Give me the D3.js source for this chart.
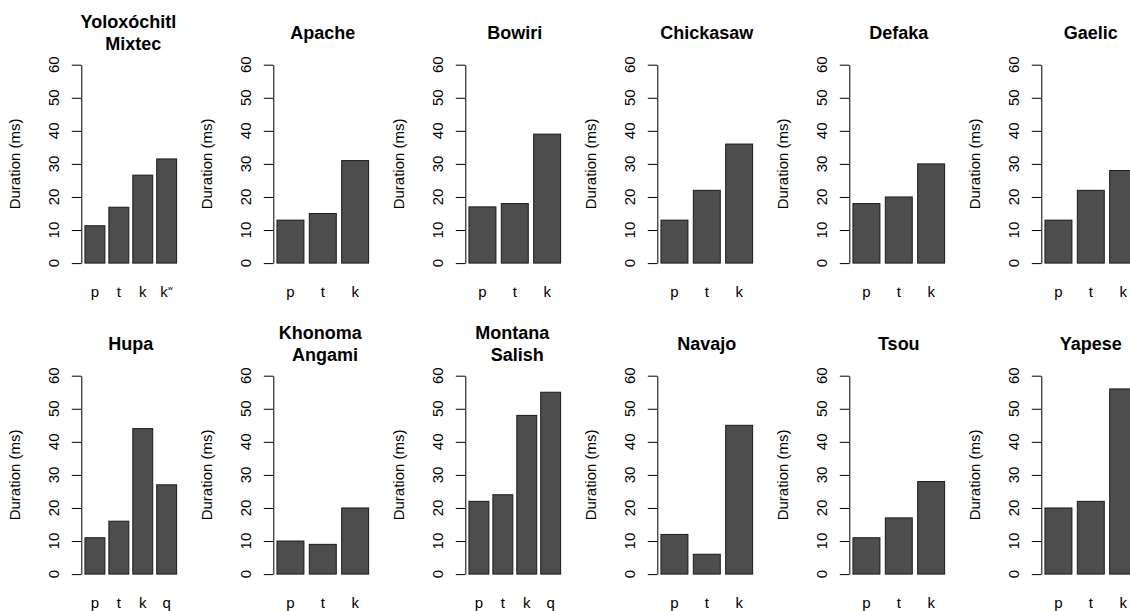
<!DOCTYPE html>
<html><head><meta charset="utf-8">
<script src="https://cdn.jsdelivr.net/npm/d3@7"></script>
<style>
html,body{margin:0;padding:0;background:#fff;}
svg{display:block;font-family:"Liberation Sans",Arial,Helvetica,sans-serif;}
</style></head>
<body><svg id="chart" width="1130" height="611"></svg>
<script>
const languages = ["Yoloxóchitl \n Mixtec","Apache","Bowiri","Chickasaw","Defaka","Gaelic",
                   "Hupa","Khonoma \n Angami","Montana \n Salish","Navajo","Tsou","Yapese"];
const consonants = [
  ["p","t","k","kʷ"],["p","t","k"],["p","t","k"],["p","t","k"],["p","t","k"],["p","t","k"],
  ["p","t","k","q"],["p","t","k"],["p","t","k","q"],["p","t","k"],["p","t","k"],["p","t","k"]
];
const durations = [
  [11.3,16.9,26.6,31.5],[13,15,31],[17,18,39],[13,22,36],[18,20,30],[13,22,28],
  [11,16,44,27],[10,9,20],[22,24,48,55],[12,6,45],[11,17,28],[20,22,56]
];
const yTicks = [0,10,20,30,40,50,60];
const yLabel = "Duration (ms)";

const svg = d3.select("#chart");
svg.append("rect").attr("width",1130).attr("height",611).attr("fill","#fff");

const colStep = 192, rowStep = 311;
const left0 = 81.3, top0 = 64.7, plotW = 99, plotH = 198.4;

languages.forEach((lang, i) => {
  const c = i % 6, r = Math.floor(i / 6);
  const px = left0 + c * colStep, py = top0 + r * rowStep;
  const g = svg.append("g").attr("transform", `translate(${px},${py})`);
  const cats = consonants[i], vals = durations[i];
  const n = cats.length;
  const ext = 0.04 * (1.2 * n - 0.2);
  const x = d3.scaleLinear().domain([0.2 - ext, 1.2 * n + ext]).range([0, plotW]);
  const y = d3.scaleLinear().domain([0, 60]).range([plotH, 0]);

  // bars
  g.selectAll("rect.bar").data(vals).join("rect")
    .attr("class","bar")
    .attr("x", (d, j) => x(0.2 + 1.2 * j))
    .attr("width", (d, j) => x(1.2 + 1.2 * j) - x(0.2 + 1.2 * j))
    .attr("y", d => y(d))
    .attr("height", d => y(0) - y(d))
    .attr("fill", "#4d4d4d")
    .attr("stroke", "#1a1a1a")
    .attr("stroke-width", 1);

  // y axis (line + ticks from d3 axis, rotated labels drawn explicitly)
  const ax = g.append("g").call(d3.axisLeft(y).tickValues(yTicks).tickSize(9.5).tickSizeOuter(0));
  ax.select(".domain").attr("stroke", "#000").attr("stroke-width", 1);
  ax.selectAll(".tick line").attr("stroke", "#000").attr("stroke-width", 1);
  ax.selectAll(".tick text").remove();
  yTicks.forEach(t => {
    g.append("text")
      .attr("transform", `translate(-22.3,${y(t)}) rotate(-90)`)
      .attr("text-anchor", "middle")
      .attr("font-size", 15)
      .attr("fill", "#000")
      .text(t);
  });

  // y label
  g.append("text")
    .attr("transform", `translate(-61,${plotH / 2}) rotate(-90)`)
    .attr("text-anchor", "middle")
    .attr("font-size", 15)
    .attr("fill", "#000")
    .text(yLabel);

  // x category labels
  cats.forEach((lab, j) => {
    const t = g.append("text")
      .attr("x", x(0.7 + 1.2 * j))
      .attr("y", plotH + 34)
      .attr("text-anchor", "middle")
      .attr("font-size", 15)
      .attr("fill", "#000");
    if (lab.endsWith("ʷ")) {
      t.append("tspan").text(lab.slice(0, -1));
      t.append("tspan").attr("font-size", 10).attr("dy", -3)
        .attr("font-family", "DejaVu Sans, sans-serif").text("ʷ");
    } else {
      t.text(lab);
    }
  });

  // title
  const lines = lang.split("\n");
  const nl = lines.length;
  lines.forEach((ln, k) => {
    g.append("text")
      .attr("x", plotW / 2)
      .attr("y", -25.4 + (k - (nl - 1) / 2) * 22)
      .attr("text-anchor", "middle")
      .attr("font-size", 18)
      .attr("font-weight", "bold")
      .attr("fill", "#000")
      .style("white-space", "pre")
      .text(ln);
  });
});
</script></body></html>
